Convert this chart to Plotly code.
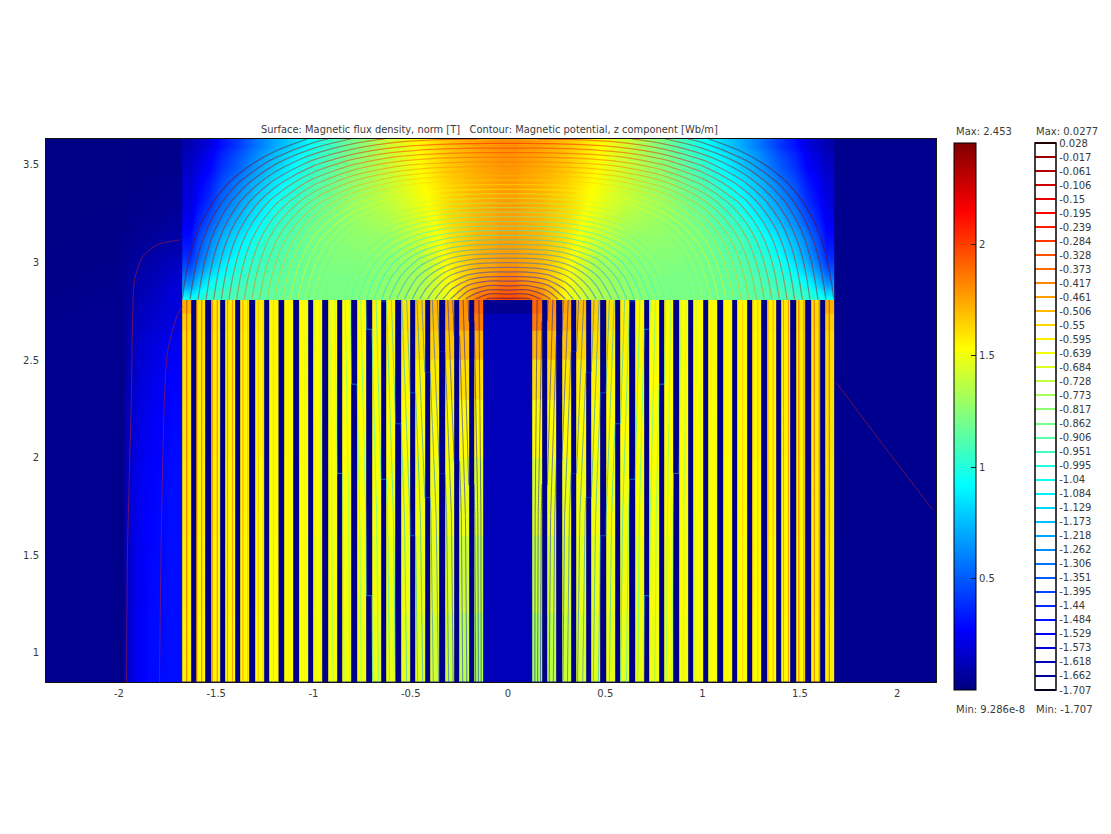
import plotly.graph_objects as go

# ---------- labels ----------
TITLE = "Surface: Magnetic flux density, norm [T]   Contour: Magnetic potential, z component [Wb/m]"
x_ticks = [-2, -1.5, -1, -0.5, 0, 0.5, 1, 1.5, 2]
y_ticks = [1, 1.5, 2, 2.5, 3, 3.5]
surf_ticks = [0.5, 1, 1.5, 2]
level_labels = ["0.028","-0.017","-0.061","-0.106","-0.15","-0.195","-0.239","-0.284","-0.328","-0.373",
                "-0.417","-0.461","-0.506","-0.55","-0.595","-0.639","-0.684","-0.728","-0.773","-0.817",
                "-0.862","-0.906","-0.951","-0.995","-1.04","-1.084","-1.129","-1.173","-1.218","-1.262",
                "-1.306","-1.351","-1.395","-1.44","-1.484","-1.529","-1.573","-1.618","-1.662","-1.707"]
level_values = [float(s) for s in level_labels]

# ---------- surface: flux density in the yoke (half, x >= 0; mirrored) ----------
yoke_x_edges = [0.075, 0.225, 0.375, 0.525, 0.7, 0.9, 1.1, 1.3, 1.475, 1.595, 1.675]
yoke_y_edges = [2.81, 2.83, 2.875, 2.95, 3.05, 3.2, 3.4, 3.56, 3.633]
yoke_B = [
    [1.98, 1.88, 1.50, 1.35, 1.28, 1.22, 1.20, 1.15, 1.10, 1.05, 0.95],
    [1.92, 1.83, 1.52, 1.35, 1.28, 1.22, 1.20, 1.15, 1.10, 1.02, 0.80],
    [1.85, 1.75, 1.54, 1.33, 1.27, 1.22, 1.20, 1.14, 1.05, 0.90, 0.60],
    [1.78, 1.72, 1.56, 1.34, 1.27, 1.24, 1.20, 1.12, 0.98, 0.72, 0.42],
    [1.76, 1.71, 1.60, 1.42, 1.30, 1.26, 1.20, 1.08, 0.86, 0.60, 0.30],
    [1.77, 1.72, 1.63, 1.50, 1.38, 1.28, 1.15, 0.95, 0.68, 0.40, 0.20],
    [1.78, 1.74, 1.66, 1.54, 1.40, 1.25, 1.05, 0.80, 0.52, 0.28, 0.15],
    [1.80, 1.76, 1.68, 1.55, 1.42, 1.20, 0.95, 0.70, 0.42, 0.20, 0.10],
]

# ---------- surface: air to the left of the stack ----------
left_x_edges = [-2.375, -2.2, -2.05, -2.0, -1.97, -1.9, -1.78, -1.675]
left_y_edges = [0.85, 1.5, 2.2, 2.6, 2.8, 2.95, 3.1, 3.3, 3.633]
left_B = [
    [0.03, 0.04, 0.03, 0.01, 0.20, 0.29, 0.30],
    [0.03, 0.04, 0.03, 0.01, 0.19, 0.27, 0.30],
    [0.03, 0.04, 0.04, 0.02, 0.14, 0.22, 0.27],
    [0.03, 0.04, 0.04, 0.02, 0.10, 0.16, 0.20],
    [0.02, 0.03, 0.03, 0.04, 0.07, 0.12, 0.18],
    [0.02, 0.02, 0.02, 0.03, 0.05, 0.08, 0.12],
    [0.01, 0.02, 0.02, 0.02, 0.03, 0.04, 0.06],
    [0.01, 0.01, 0.01, 0.01, 0.02, 0.02, 0.03],
]
right_x_edges = [1.675, 2.2]
right_y_edges = [0.85, 3.633]
right_B = [[0.03]]

# ---------- surface: teeth, listed from the central slot outward ----------
slot_half = 0.126
stack_half = 1.675
gap_half = 0.014
gap_centers = [0.188, 0.263, 0.338, 0.414, 0.489, 0.564, 0.639, 0.714, 0.790, 0.865,
               0.940, 1.015, 1.090, 1.166, 1.241, 1.316, 1.391, 1.466, 1.542, 1.617]
gap_B = 0.02
teeth_y_edges = [0.85, 1.2, 1.6, 2.0, 2.3, 2.5, 2.65, 2.74, 2.81]
slot_B = [0.12, 0.12, 0.12, 0.12, 0.12, 0.12, 0.12, 0.04]
teeth_B = [
    [1.32,1.37,1.41,1.44,1.46,1.47,1.48,1.49,1.50,1.50,1.51,1.52,1.52,1.53,1.53,1.53,1.54,1.54,1.55,1.55,1.57],
    [1.38,1.42,1.45,1.47,1.48,1.49,1.50,1.50,1.51,1.51,1.52,1.52,1.53,1.53,1.53,1.54,1.54,1.55,1.55,1.56,1.58],
    [1.45,1.48,1.49,1.50,1.50,1.51,1.51,1.52,1.52,1.52,1.52,1.53,1.53,1.53,1.54,1.54,1.55,1.55,1.56,1.57,1.59],
    [1.54,1.54,1.54,1.54,1.53,1.53,1.53,1.53,1.53,1.53,1.53,1.53,1.53,1.54,1.54,1.55,1.55,1.56,1.57,1.58,1.60],
    [1.62,1.61,1.59,1.58,1.56,1.55,1.54,1.54,1.53,1.53,1.53,1.53,1.54,1.54,1.55,1.55,1.56,1.57,1.58,1.59,1.61],
    [1.72,1.70,1.67,1.64,1.61,1.58,1.56,1.55,1.54,1.53,1.53,1.53,1.54,1.54,1.55,1.55,1.56,1.57,1.58,1.60,1.62],
    [1.85,1.78,1.73,1.68,1.64,1.60,1.57,1.55,1.54,1.53,1.53,1.53,1.54,1.54,1.55,1.56,1.57,1.58,1.59,1.61,1.65],
    [1.90,1.80,1.75,1.70,1.65,1.60,1.57,1.55,1.54,1.53,1.53,1.53,1.54,1.54,1.55,1.56,1.57,1.58,1.59,1.61,1.72],
]

# ---------- contour: potential in the yoke (half, x >= 0; mirrored) ----------
A_x = [0, 0.1, 0.2, 0.3, 0.45, 0.6, 0.8, 1.0, 1.2, 1.4, 1.55, 1.675]
A_y = [2.81, 2.87, 2.93, 3.01, 3.11, 3.21, 3.31, 3.41, 3.51, 3.633]
A_z = [
    [-1.72,-1.72,-1.639,-1.526,-1.356,-1.186,-0.959,-0.732,-0.505,-0.278,-0.108,0.028],
    [-1.594,-1.597,-1.554,-1.469,-1.319,-1.158,-0.938,-0.716,-0.492,-0.267,-0.098,0.037],
    [-1.480,-1.478,-1.454,-1.398,-1.273,-1.125,-0.915,-0.697,-0.477,-0.255,-0.087,0.048],
    [-1.330,-1.327,-1.314,-1.280,-1.190,-1.065,-0.873,-0.666,-0.451,-0.234,-0.070,0.064],
    [-1.140,-1.139,-1.132,-1.112,-1.053,-0.960,-0.799,-0.611,-0.409,-0.200,-0.038,0.092],
    [-0.951,-0.951,-0.946,-0.934,-0.894,-0.826,-0.697,-0.532,-0.348,-0.150,0.004,0.130],
    [-0.763,-0.763,-0.759,-0.750,-0.723,-0.673,-0.571,-0.433,-0.268,-0.086,0.061,0.179],
    [-0.573,-0.573,-0.570,-0.564,-0.544,-0.507,-0.426,-0.311,-0.167,-0.003,0.131,0.244],
    [-0.384,-0.384,-0.382,-0.377,-0.362,-0.334,-0.269,-0.174,-0.050,0.096,0.220,0.323],
    [-0.151,-0.151,-0.149,-0.146,-0.135,-0.114,-0.064,0.012,0.113,0.240,0.348,0.439],
]

# ---------- contour: potential at the start of each tooth, slot outward ----------
tooth_A_y = [0.85, 1.7, 2.81]
tooth_A_bottom = [-1.70,-1.55,-1.45,-1.36,-1.28,-1.20,-1.13,-1.06,-0.99,-0.92,-0.85,-0.78,-0.706,-0.633,-0.551,-0.468,-0.385,-0.303,-0.220,-0.138,-0.055]
tooth_A_middle = [-1.70,-1.565,-1.465,-1.38,-1.30,-1.22,-1.145,-1.075,-1.00,-0.93,-0.857,-0.784,-0.708,-0.633,-0.551,-0.468,-0.385,-0.303,-0.220,-0.138,-0.055]
tooth_A_top = [-1.70,-1.624,-1.542,-1.459,-1.377,-1.294,-1.211,-1.129,-1.046,-0.964,-0.881,-0.798,-0.716,-0.633,-0.551,-0.468,-0.385,-0.303,-0.220,-0.138,-0.055]
tooth_A_end = 0.028

# ---------- stray field lines in the air ----------
line1_x = [-1.689, -1.807, -1.879, -1.920, -1.931, -1.936, -1.956, -1.961]
line1_y = [3.116, 3.09, 3.029, 2.911, 2.655, 2.311, 1.528, 0.85]
line2_x = [-1.674, -1.704, -1.751, -1.766, -1.781, -1.792]
line2_y = [2.773, 2.721, 2.537, 2.311, 1.681, 0.85]
line3_x = [1.689, 1.936, 2.183]
line3_y = [2.383, 2.055, 1.733]

# ---------- style ----------
JET = [[0, "#000080"], [0.11, "#0000ff"], [0.375, "#00ffff"], [0.625, "#ffff00"],
       [0.875, "#ff0000"], [1, "#800000"]]
FONT = "DejaVu Sans"
TEXT = "#3a3a3a"
W, H = 1111, 834
L, R, T, B = 46, 936, 139, 682
LEVELS = dict(coloring="lines", start=-1.707, end=0.028, size=1.735 / 39)
def px(p):
    return (p - L) / (R - L)
def py(p):
    return (B - p) / (B - T)

# ---------- assemble ----------
def mirror_row(row):
    return list(reversed(row)) + list(row)

yoke_edges_full = [-e for e in reversed(yoke_x_edges)] + [0] + yoke_x_edges
yoke_z = [mirror_row(r) for r in yoke_B]

right_edges = [slot_half]
for c in gap_centers:
    right_edges += [c - gap_half, c + gap_half]
right_edges.append(stack_half)
teeth_edges = [-e for e in reversed(right_edges)] + right_edges
teeth_z = []
for row, s in zip(teeth_B, slot_B):
    half = []
    for i, v in enumerate(row):
        half.append(v)
        if i < len(gap_centers):
            half.append(gap_B)
    teeth_z.append(list(reversed(half)) + [s] + half)

def tooth_profile(starts):
    half = [starts[0]]
    for s in starts[1:]:
        half += [s, s]
    half.append(tooth_A_end)
    return list(reversed(half)) + half
tooth_contour_z = [tooth_profile(tooth_A_bottom), tooth_profile(tooth_A_middle), tooth_profile(tooth_A_top)]

A_x_full = [-v for v in reversed(A_x)] + A_x[1:]
A_z_full = [list(reversed(r)) + r[1:] for r in A_z]

fig = go.Figure()
fig.add_trace(go.Heatmap(x=left_x_edges, y=left_y_edges, z=left_B, coloraxis="coloraxis",
                         zsmooth="best", hoverinfo="skip"))
fig.add_trace(go.Heatmap(x=right_x_edges, y=right_y_edges, z=right_B, coloraxis="coloraxis",
                         hoverinfo="skip"))
fig.add_trace(go.Heatmap(x=teeth_edges, y=teeth_y_edges, z=teeth_z, coloraxis="coloraxis",
                         hoverinfo="skip"))
fig.add_trace(go.Heatmap(x=yoke_edges_full, y=yoke_y_edges, z=yoke_z, coloraxis="coloraxis",
                         zsmooth="best", hoverinfo="skip"))
fig.add_trace(go.Contour(
    x=A_x_full, y=A_y, z=A_z_full, colorscale=JET, zmin=-1.707, zmax=0.028, contours=LEVELS,
    line=dict(width=1.25, smoothing=1), opacity=0.45, hoverinfo="skip", showscale=False))
fig.add_trace(go.Contour(
    x=teeth_edges, y=tooth_A_y, z=tooth_contour_z, colorscale=JET, zmin=-1.707, zmax=0.028, contours=LEVELS,
    line=dict(width=1, smoothing=0), opacity=0.5, hoverinfo="skip", showscale=False))
# legend of the contour levels: its own trace, off the visible axes, so the key can use a thicker line
fig.add_trace(go.Contour(
    x=[-9, -8], y=[-9, -8], z=[[-1.707, 0.028], [-1.707, 0.028]], colorscale=JET, zmin=-1.707, zmax=0.028,
    contours=LEVELS, line=dict(width=2, smoothing=0), hoverinfo="skip",
    colorbar=dict(x=px(1035), xref="paper", xanchor="left", xpad=0,
                  y=py(690), yref="paper", yanchor="bottom", ypad=0,
                  len=547, lenmode="pixels", thickness=21, thicknessmode="pixels",
                  outlinecolor="black", outlinewidth=1.5, bgcolor="white",
                  tickmode="array", tickvals=level_values, ticktext=level_labels,
                  ticks="", tickfont=dict(family=FONT, size=10, color=TEXT)),
))
for xs, ys in ((line1_x, line1_y), (line2_x, line2_y), (line3_x, line3_y)):
    fig.add_trace(go.Scatter(x=xs, y=ys, mode="lines", showlegend=False, hoverinfo="skip",
                             line=dict(color="rgba(170,30,50,0.6)", width=1, shape="spline", smoothing=0.6)))

def note(text, xp, yp, anchor="left", size=10):
    fig.add_annotation(text=text, x=px(xp), y=py(yp), xref="paper", yref="paper",
                       xanchor=anchor, yanchor="middle", showarrow=False,
                       font=dict(family=FONT, size=size, color=TEXT))
note("Max: 2.453", 954, 131)
note("Max: 0.0277", 1034, 131)
note("Min: 9.286e-8", 954, 709)
note("Min: -1.707", 1034, 709)
note(TITLE.replace(" ", "&nbsp;"), 489.5, 130, "center", 9.9)

fig.update_layout(
    width=W, height=H, margin=dict(l=L, r=W - R, t=T, b=H - B, autoexpand=False),
    paper_bgcolor="white", plot_bgcolor="#000088", showlegend=False,
    font=dict(family=FONT, size=10, color=TEXT),
    coloraxis=dict(cmin=0, cmax=2.453, colorscale=JET,
                   colorbar=dict(x=px(954), xref="paper", xanchor="left", xpad=0,
                                 y=py(690), yref="paper", yanchor="bottom", ypad=0,
                                 len=547, lenmode="pixels", thickness=22, thicknessmode="pixels",
                                 outlinecolor="black", outlinewidth=1,
                                 tickmode="array", tickvals=surf_ticks, ticktext=["0.5", "1", "1.5", "2"],
                                 ticks="inside", ticklen=5, tickcolor="#222",
                                 tickfont=dict(family=FONT, size=10, color=TEXT))),
    xaxis=dict(range=[-2.375, 2.2], tickmode="array", tickvals=x_ticks,
               ticktext=["-2", "-1.5", "-1", "-0.5", "0", "0.5", "1", "1.5", "2"],
               showgrid=False, zeroline=False, showline=True, mirror=True, linecolor="#111", linewidth=1,
               ticks="", ticklabelstandoff=2, tickfont=dict(family=FONT, size=10, color=TEXT)),
    yaxis=dict(range=[0.85, 3.633], tickmode="array", tickvals=y_ticks,
               ticktext=["1", "1.5", "2", "2.5", "3", "3.5"],
               showgrid=False, zeroline=False, showline=True, mirror=True, linecolor="#111", linewidth=1,
               ticks="", ticklabelstandoff=4, tickfont=dict(family=FONT, size=10, color=TEXT)),
)
fig.write_html("out.html", config={"displayModeBar": False}, post_script="document.body.style.margin='0';")
